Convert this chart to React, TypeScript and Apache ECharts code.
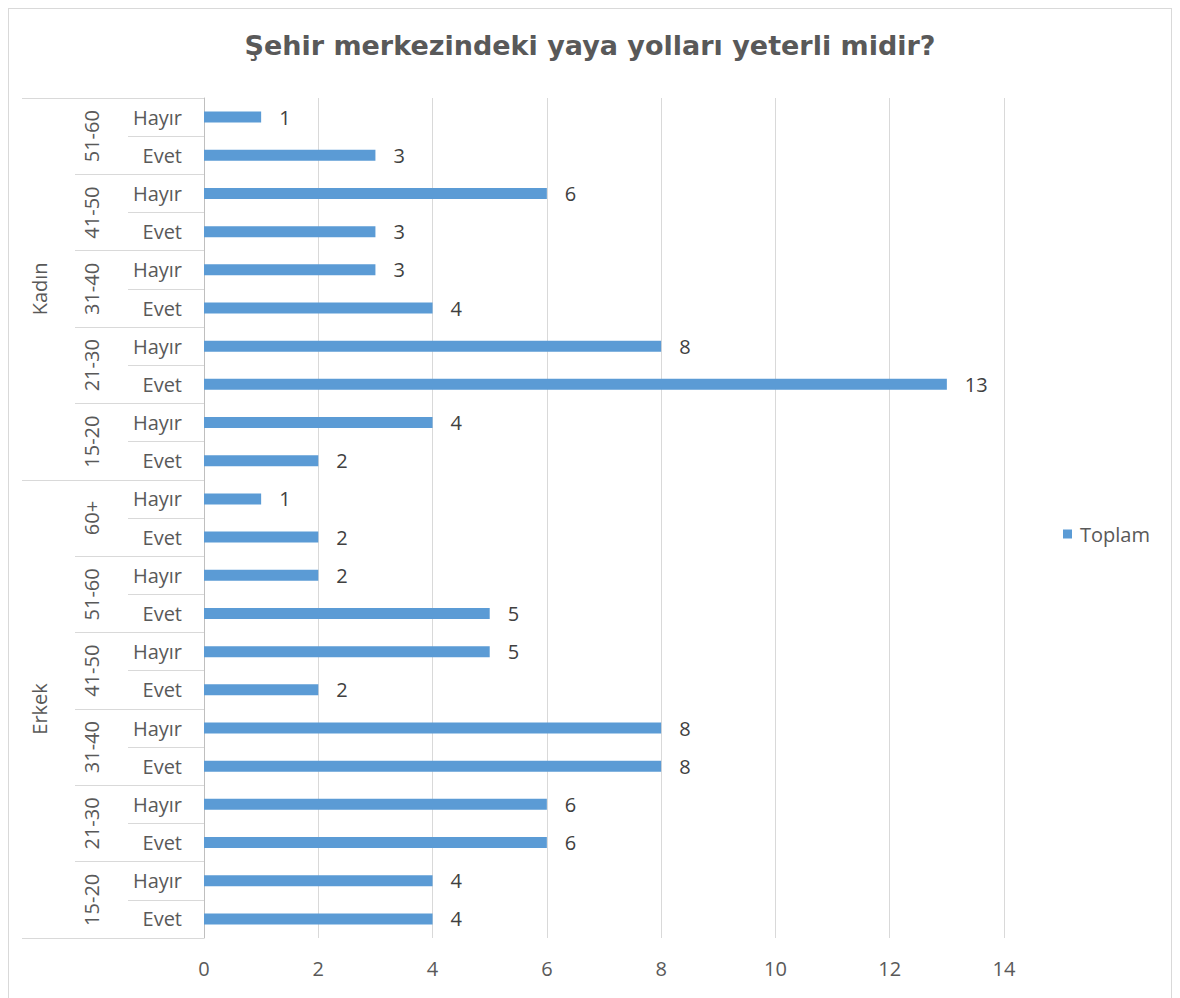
import React, { useEffect, useRef } from "react";
import * as echarts from "echarts";

const titleText = "Şehir merkezindeki yaya yolları yeterli midir?";
const seriesName = "Toplam";
const genders = ["Erkek", "Kadın"];
const ageGroups = [
  ["15-20", "21-30", "31-40", "41-50", "51-60", "60+"],
  ["15-20", "21-30", "31-40", "41-50", "51-60"],
];
const answers = ["Evet", "Hayır"];
// values per gender, ordered by age group then answer (Evet, Hayır)
const erkekValues = [4, 4, 6, 6, 8, 8, 2, 5, 5, 2, 2, 1];
const kadinValues = [2, 4, 13, 8, 4, 3, 3, 6, 3, 1];
const xTicks = [0, 2, 4, 6, 8, 10, 12, 14];

const FONT = "'Open Sans', 'Noto Sans', sans-serif";
const TITLE_FONT = "'DejaVu Sans', 'Open Sans', sans-serif";
const TEXT = "#595959";
const GRID = "#D9D9D9";
const FS = 20;

export default function App() {
  const ref = useRef<HTMLDivElement>(null);
  useEffect(() => {
    if (!ref.current) return;
    const chart = echarts.init(ref.current, undefined, { renderer: "svg" });

    const categories: string[] = [];
    genders.forEach((g, gi) => {
      ageGroups[gi].forEach(() => {
        answers.forEach((a) => categories.push(a));
      });
    });
    const values = [...erkekValues, ...kadinValues];
    const total = categories.length;

    const ageBounds: number[] = [0];
    const ageCenters: number[] = [];
    const ageLabelMap: Record<string, string> = {};
    const genderBounds: number[] = [0];
    const genderCenters: number[] = [];
    const genderLabelMap: Record<string, string> = {};
    let pos = 0;
    genders.forEach((g, gi) => {
      const start = pos;
      ageGroups[gi].forEach((age) => {
        const c = pos + answers.length / 2;
        ageCenters.push(c);
        ageLabelMap[String(c)] = age;
        pos += answers.length;
        ageBounds.push(pos);
      });
      const gc = (start + pos) / 2;
      genderCenters.push(gc);
      genderLabelMap[String(gc)] = g;
      genderBounds.push(pos);
    });

    const valueYAxis = (
      ticks: number[],
      centers: number[],
      map: Record<string, string>,
      tickLen: number,
      margin: number
    ) => ({
      type: "value",
      position: "left",
      min: 0,
      max: total,
      axisLine: { show: false },
      splitLine: { show: false },
      axisTick: {
        show: true,
        length: tickLen,
        customValues: ticks,
        lineStyle: { color: GRID, width: 1 },
      },
      axisLabel: {
        show: true,
        customValues: centers,
        rotate: 90,
        margin,
        color: TEXT,
        fontSize: FS,
        fontFamily: FONT,
        formatter: (v: number) => map[String(v)] ?? "",
      },
    });

    chart.setOption({
      animation: false,
      title: {
        text: titleText,
        left: "center",
        top: 18,
        textStyle: {
          color: TEXT,
          fontSize: 27,
          fontWeight: "bold",
          fontFamily: TITLE_FONT,
        },
      },
      legend: {
        orient: "vertical",
        left: 1054,
        top: 515,
        padding: 0,
        itemWidth: 9,
        itemHeight: 9,
        itemGap: 8,
        icon: "rect",
        textStyle: { color: TEXT, fontSize: FS, fontFamily: FONT, padding: [0, 0, 0, 3] },
        data: [seriesName],
      },
      grid: { left: 195, top: 89, width: 800, height: 840, containLabel: false },
      xAxis: {
        type: "value",
        min: 0,
        max: xTicks[xTicks.length - 1],
        interval: 2,
        axisLine: { show: false },
        axisTick: { show: false },
        splitLine: { show: true, lineStyle: { color: GRID, width: 1 } },
        axisLabel: { color: TEXT, fontSize: FS, fontFamily: FONT, margin: 20 },
      },
      yAxis: [
        {
          type: "category",
          data: categories,
          position: "left",
          axisLine: { show: true, lineStyle: { color: "#BFBFBF", width: 1 } },
          axisTick: {
            show: true,
            length: 76,
            interval: 0,
            lineStyle: { color: GRID, width: 1 },
          },
          axisLabel: {
            interval: 0,
            margin: 22,
            color: TEXT,
            fontSize: FS,
            fontFamily: FONT,
          },
        },
        valueYAxis(ageBounds, ageCenters, ageLabelMap, 129, 103),
        valueYAxis(genderBounds, genderCenters, genderLabelMap, 182, 155),
      ],
      series: [
        {
          name: seriesName,
          type: "bar",
          yAxisIndex: 0,
          data: values,
          barWidth: 11,
          itemStyle: { color: "#5B9BD5" },
          label: {
            show: true,
            position: "right",
            distance: 18,
            color: "#404040",
            fontSize: FS,
            fontFamily: FONT,
          },
        },
      ],
    });
    return () => chart.dispose();
  }, []);

  return (
    <div
      style={{
        width: 1164,
        height: 1000,
        border: "1px solid #D9D9D9",
        boxSizing: "border-box",
      }}
    >
      <div ref={ref} style={{ width: "100%", height: "100%" }} />
    </div>
  );
}
